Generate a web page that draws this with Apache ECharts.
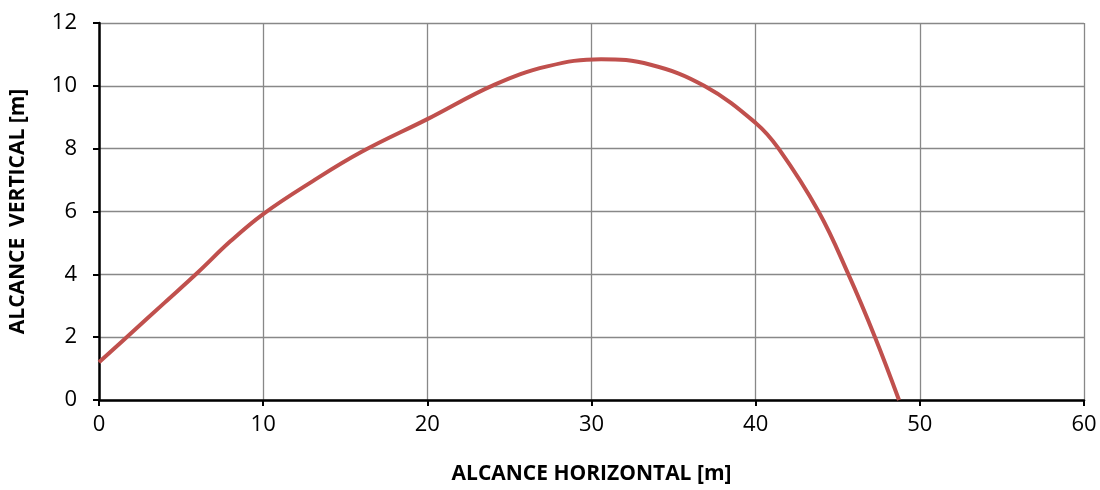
<!DOCTYPE html>
<html><head><meta charset="utf-8">
<script src="https://cdn.jsdelivr.net/npm/echarts@6/dist/echarts.min.js"></script>
<style>html,body{margin:0;padding:0;background:#fff}#c{width:1100px;height:490px}</style>
</head><body><div id="c"></div>
<script>
const xValues = [0,2,4,6,8,10,13,16,20,24.1,27.3,30.58,33.6,36.86,40,41.4,43.83,45.65,47.27,48.73];
const yValues = [1.2,2.15,3.1,4.05,5.05,5.92,6.96,7.9,8.94,10.04,10.62,10.85,10.67,10.0,8.82,8.0,6.0,4.0,2.0,0];
const xTitle = 'ALCANCE HORIZONTAL [m]';
const yTitle = 'ALCANCE  VERTICAL [m]';
const FONT = 'Open Sans';
const chart = echarts.init(document.getElementById('c'), null, {renderer:'canvas'});
chart.setOption({
  animation:false,
  grid:{left:97,right:16,top:23,bottom:87,containLabel:false},
  xAxis:{type:'value',min:0,max:60,interval:10,
    name:xTitle,nameLocation:'middle',nameGap:64,
    nameTextStyle:{fontFamily:FONT,fontWeight:'bold',fontSize:21,color:'#000'},
    axisLine:{lineStyle:{color:'#000',width:2.5}},
    axisTick:{show:true,length:6,lineStyle:{color:'#000',width:2}},
    axisLabel:{fontFamily:FONT,fontSize:22,color:'#000',margin:14},
    splitLine:{show:true,lineStyle:{color:'#888',width:1.3}}},
  yAxis:{type:'value',min:0,max:12,interval:2,
    name:yTitle,nameLocation:'middle',nameGap:70,
    nameTextStyle:{fontFamily:FONT,fontWeight:'bold',fontSize:21,color:'#000'},
    axisLine:{show:true,lineStyle:{color:'#000',width:2.5}},
    axisTick:{show:true,length:6,lineStyle:{color:'#000',width:2}},
    axisLabel:{fontFamily:FONT,fontSize:22,color:'#000',margin:22},
    splitLine:{show:true,lineStyle:{color:'#888',width:1.3}}},
  series:[{type:'line',data:xValues.map((x,i)=>[x,yValues[i]]),smooth:0.4,
    symbol:'none',lineStyle:{color:'#C0504D',width:4}}]
});
</script></body></html>
